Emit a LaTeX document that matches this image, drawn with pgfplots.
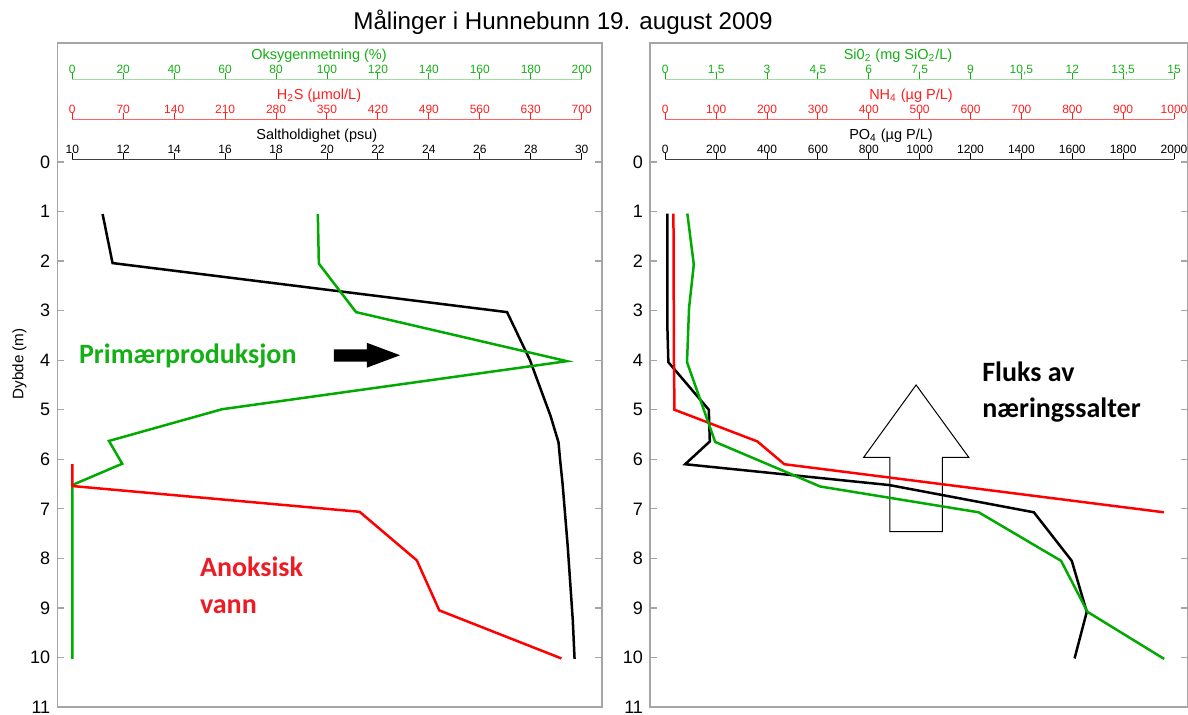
\documentclass[border=0pt]{standalone}
\usepackage{fontspec}
\setmainfont{Liberation Sans}
\newfontfamily\calibri{Carlito}
\usepackage{pgfplots}
\pgfplotsset{compat=1.18}
\definecolor{dgreen}{RGB}{0,170,0}
\definecolor{lgreen}{RGB}{160,220,160}
\definecolor{tgreen}{RGB}{20,175,20}
\definecolor{dred}{RGB}{255,0,0}
\definecolor{lred}{RGB}{255,100,100}
\definecolor{tred}{RGB}{255,30,30}
\definecolor{anred}{RGB}{237,28,36}
\definecolor{framegray}{RGB}{165,165,165}

\pgfplotsset{
  frameax/.style={scale only axis, anchor=south west, height=332pt,
    y dir=reverse, ymin=-2.402, ymax=11, ytick={0,...,11}, xtick=\empty,
    axis line style={framegray, line width=0.8pt},
    tick style={framegray, line width=0.6pt}, major tick length=3.5pt, tick align=inside,
    yticklabel style={font=\fontsize{9}{10}\selectfont},
    /pgf/number format/assume math mode=true},
  dataax/.style={scale only axis, anchor=south west, height=332pt,
    y dir=reverse, ymin=-2.402, ymax=11, hide axis, clip=false},
  scaleax/.style={scale only axis, anchor=north west, height=1pt, ymin=0, ymax=1,
    axis y line=none, axis x line*=top, tick align=outside, major tick length=3pt,
    xticklabel style={font=\fontsize{6}{7}\selectfont, anchor=base, inner sep=0pt},
    xlabel style={font=\fontsize{7.25}{8}\selectfont, anchor=base, inner sep=0pt},
    /pgf/number format/1000 sep={},
    /pgf/number format/assume math mode=true},
  dline/.style={line width=1.25pt, mark=none},
}

\begin{document}
\begin{tikzpicture}[x=1pt,y=1pt]
\useasboundingbox (0,0) rectangle (594,357.5);
\node[anchor=base, font=\fontsize{12.1}{14}\selectfont] at (281.5,342.5) {Målinger i Hunnebunn 19. august 2009};

% ---------------- LEFT PANEL ----------------
\begin{axis}[frameax, at={(28.65pt,4pt)}, width=272.2pt, xmin=9.4111, xmax=30.7852,
  ylabel={Dybde (m)},
  ylabel style={at={(axis description cs:-0.0693,0.5166)}, anchor=center, rotate=0, font=\fontsize{7.6}{8}\selectfont}]
\addplot[dline, black] coordinates {
 (11.19,1.05) (11.58,2.04) (27.07,3.03) (27.97,4.0) (28.78,5.13) (29.09,5.66)
 (29.15,6.0) (29.25,6.5) (29.33,7.0) (29.45,7.75) (29.55,8.5) (29.65,9.25) (29.72,10.03)};
\draw[fill=black, draw=none] (axis cs:20.27,3.78) -- (axis cs:21.57,3.78) -- (axis cs:21.57,3.65)
  -- (axis cs:22.87,3.90) -- (axis cs:21.57,4.15) -- (axis cs:21.57,4.03) -- (axis cs:20.27,4.03) -- cycle;
\node[anchor=base west, text=tgreen, font=\calibri\bfseries\fontsize{14}{17}\selectfont, inner sep=0pt] at (axis cs:10.25,4.077) {Primærproduksjon};
\node[anchor=base west, text=anred, font=\calibri\bfseries\fontsize{14}{18.3}\selectfont, inner sep=0pt] at (axis cs:15.0,8.37) {Anoksisk};
\node[anchor=base west, text=anred, font=\calibri\bfseries\fontsize{14}{18.3}\selectfont, inner sep=0pt] at (axis cs:15.0,9.11) {vann};
\end{axis}

\begin{axis}[dataax, at={(28.65pt,4pt)}, width=272.2pt, xmin=-5.889, xmax=207.852]
\addplot[dline, dgreen] coordinates {
 (96.4,1.05) (96.8,2.05) (111.4,3.03) (194.2,4.02) (58.8,4.99) (14.4,5.63) (19.6,6.09) (0,6.52) (0,10.03)};
\end{axis}

\begin{axis}[dataax, at={(28.65pt,4pt)}, width=272.2pt, xmin=-20.612, xmax=727.48]
\addplot[dline, dred] coordinates {
 (0,6.1) (0,6.54) (394.8,7.06) (473.4,8.04) (504.3,9.05) (672.1,10.02)};
\end{axis}

% scales left
\begin{axis}[scaleax, at={(36.15pt,317.85pt)}, width=254.7pt, xmin=0, xmax=200,
  xtick={0,20,...,200}, axis line style={lgreen, line width=0.5pt}, tick style={tgreen, line width=0.5pt},
  xticklabel style={text=tgreen},
  xlabel={Oksygenmetning (\%)}, xlabel style={text=tgreen, at={(axis description cs:0.4843,1)}, yshift=10pt}]
\end{axis}
\begin{axis}[scaleax, at={(36.15pt,297.85pt)}, width=254.7pt, xmin=0, xmax=700,
  xtick={0,70,...,700}, axis line style={lred, line width=0.5pt}, tick style={tred, line width=0.5pt},
  xticklabel style={text=tred},
  xlabel={H\textsubscript{2}S (µmol/L)}, xlabel style={text=tred, at={(axis description cs:0.4843,1)}, yshift=10pt}]
\end{axis}
\begin{axis}[scaleax, at={(36.15pt,277.85pt)}, width=254.7pt, xmin=10, xmax=30,
  xtick={10,12,...,30}, axis line style={black!75, line width=0.5pt}, tick style={black, line width=0.5pt},
  xlabel={Saltholdighet (psu)}, xlabel style={at={(axis description cs:0.480,1)}, yshift=10pt}]
\end{axis}

% ---------------- RIGHT PANEL ----------------
\begin{axis}[frameax, at={(325pt,4pt)}, width=268.75pt, xmin=-60.15, xmax=2053.08]
\draw[black, line width=0.5pt, fill=none] (axis cs:986,4.50) -- (axis cs:1193,5.96) -- (axis cs:1089,5.96)
  -- (axis cs:1089,7.46) -- (axis cs:883,7.46) -- (axis cs:883,5.96) -- (axis cs:780,5.96) -- cycle;
\addplot[dline, black] coordinates {
 (8,1.04) (8,2) (8,3.3) (12,4.04) (171,5.0) (175,5.64) (78,6.1) (880,6.52) (1449,7.07) (1598,8.05) (1657,9.08) (1609,10.02)};
\node[anchor=base west, text=black, font=\calibri\bfseries\fontsize{14}{18}\selectfont, inner sep=0pt] at (axis cs:1245,4.435) {Fluks av};
\node[anchor=base west, text=black, font=\calibri\bfseries\fontsize{14}{18}\selectfont, inner sep=0pt] at (axis cs:1245,5.15) {næringssalter};
\end{axis}

\begin{axis}[dataax, at={(325pt,4pt)}, width=268.75pt, xmin=-30.08, xmax=1026.54]
\addplot[dline, dred] coordinates {
 (16,1.04) (17,4.0) (18,5.0) (181,5.64) (234,6.1) (980,7.07)};
\end{axis}

\begin{axis}[dataax, at={(325pt,4pt)}, width=268.75pt, xmin=-0.4512, xmax=15.398]
\addplot[dline, dgreen] coordinates {
 (0.65,1.04) (0.84,2.07) (0.70,2.95) (0.64,4.04) (1.47,5.65) (4.57,6.55) (9.24,7.07) (11.67,8.05) (12.45,9.08) (14.71,10.03)};
\end{axis}

% scales right
\begin{axis}[scaleax, at={(332.65pt,317.85pt)}, width=254.35pt, xmin=0, xmax=15,
  xtick={0,1.5,...,15}, xticklabels={0,{1,5},3,{4,5},6,{7,5},9,{10,5},12,{13,5},15},
  axis line style={lgreen, line width=0.5pt}, tick style={tgreen, line width=0.5pt},
  xticklabel style={text=tgreen},
  xlabel={Si0\textsubscript{2} (mg SiO\textsubscript{2}/L)}, xlabel style={text=tgreen, at={(axis description cs:0.4574,1)}, yshift=10pt}]
\end{axis}
\begin{axis}[scaleax, at={(332.65pt,297.85pt)}, width=254.35pt, xmin=0, xmax=1000,
  xtick={0,100,...,1000}, axis line style={lred, line width=0.5pt}, tick style={tred, line width=0.5pt},
  xticklabel style={text=tred},
  xlabel={NH\textsubscript{4} (µg P/L)}, xlabel style={text=tred, at={(axis description cs:0.483,1)}, yshift=10pt}]
\end{axis}
\begin{axis}[scaleax, at={(332.65pt,277.85pt)}, width=254.35pt, xmin=0, xmax=2000,
  xtick={0,200,...,2000}, axis line style={black!75, line width=0.5pt}, tick style={black, line width=0.5pt},
  xlabel={PO\textsubscript{4} (µg P/L)}, xlabel style={at={(axis description cs:0.4437,1)}, yshift=10pt}]
\end{axis}
\end{tikzpicture}
\end{document}
